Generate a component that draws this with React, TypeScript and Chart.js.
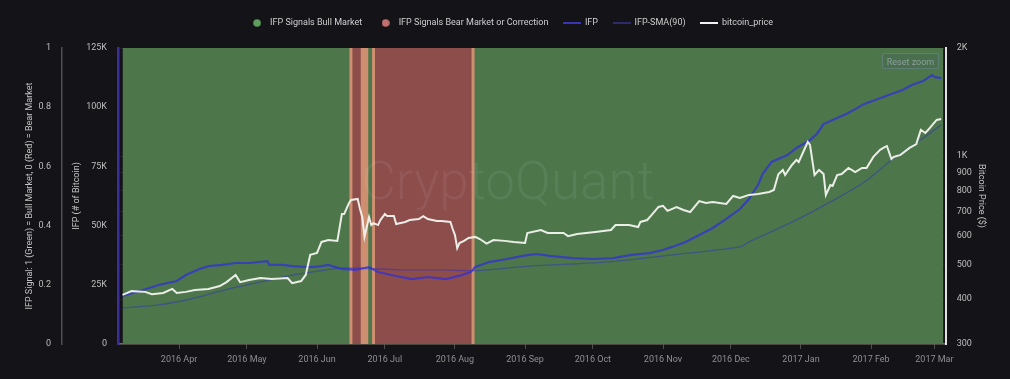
import { useEffect, useRef } from 'react';
import { Chart, registerables } from 'chart.js';

Chart.register(...registerables);

// ---------- data ----------
const xMin = '2016-03-05';
const xMax = '2017-03-06';
const xTickDates = [
  '2016-04-01', '2016-05-01', '2016-06-01', '2016-07-01', '2016-08-01', '2016-09-01',
  '2016-10-01', '2016-11-01', '2016-12-01', '2017-01-01', '2017-02-01', '2017-03-01',
];
const MONTHS = ['Jan', 'Feb', 'Mar', 'Apr', 'May', 'Jun', 'Jul', 'Aug', 'Sep', 'Oct', 'Nov', 'Dec'];

const priceTicks = [300, 400, 500, 600, 700, 800, 900, 1000, 2000];
const ifpTicks = [0, 25000, 50000, 75000, 100000, 125000];
const signalTicks = [0, 0.2, 0.4, 0.6, 0.8, 1];

const signalDates = ['2016-03-07', '2016-06-16', '2016-06-21', '2016-06-22', '2016-06-23', '2016-06-26', '2016-08-09', '2017-03-05'];
const bullSignal = [1, 0, 1, 0, 1, 0, 1, 1];
const bearSignal = [0, 1, 0, 1, 0, 1, 0, 0];

const priceDates = [
  '2016-03-07', '2016-03-11', '2016-03-17', '2016-03-20', '2016-03-25', '2016-03-29', '2016-03-31',
  '2016-04-04', '2016-04-08', '2016-04-14', '2016-04-19', '2016-04-22', '2016-04-26', '2016-04-28',
  '2016-05-02', '2016-05-07', '2016-05-12', '2016-05-19', '2016-05-21', '2016-05-25', '2016-05-27',
  '2016-05-29', '2016-06-01', '2016-06-03', '2016-06-06', '2016-06-10', '2016-06-12', '2016-06-13',
  '2016-06-15', '2016-06-16', '2016-06-19', '2016-06-20', '2016-06-21', '2016-06-22', '2016-06-24',
  '2016-06-25', '2016-06-26', '2016-06-28', '2016-06-29', '2016-07-01', '2016-07-02', '2016-07-05',
  '2016-07-06', '2016-07-10', '2016-07-12', '2016-07-16', '2016-07-18', '2016-07-20', '2016-07-24',
  '2016-07-26', '2016-07-30', '2016-07-31', '2016-08-01', '2016-08-02', '2016-08-03', '2016-08-05',
  '2016-08-07', '2016-08-10', '2016-08-12', '2016-08-15', '2016-08-18', '2016-08-23', '2016-08-27',
  '2016-09-01', '2016-09-02', '2016-09-08', '2016-09-11', '2016-09-18', '2016-09-20', '2016-09-24',
  '2016-10-02', '2016-10-09', '2016-10-11', '2016-10-17', '2016-10-21', '2016-10-22', '2016-10-25',
  '2016-10-27', '2016-10-30', '2016-11-01', '2016-11-03', '2016-11-07', '2016-11-10', '2016-11-13',
  '2016-11-17', '2016-11-20', '2016-11-23', '2016-11-29', '2016-12-02', '2016-12-05', '2016-12-09',
  '2016-12-13', '2016-12-18', '2016-12-20', '2016-12-22', '2016-12-24', '2016-12-25', '2016-12-28',
  '2016-12-30', '2016-12-31', '2017-01-02', '2017-01-04', '2017-01-05', '2017-01-07', '2017-01-09',
  '2017-01-11', '2017-01-12', '2017-01-14', '2017-01-15', '2017-01-17', '2017-01-19', '2017-01-22',
  '2017-01-25', '2017-01-28', '2017-01-30', '2017-02-02', '2017-02-05', '2017-02-07', '2017-02-08',
  '2017-02-10', '2017-02-11', '2017-02-14', '2017-02-18', '2017-02-21', '2017-02-23', '2017-02-25',
  '2017-02-27', '2017-03-02', '2017-03-04',
];
const priceValues = [
  411, 421, 419, 413, 416, 427, 416,
  419, 424, 427, 435, 446, 467, 446,
  452, 458, 455, 458, 443, 449, 467,
  531, 538, 577, 584, 581, 690, 690,
  737, 755, 760, 713, 677, 596, 677,
  643, 651, 643, 664, 690, 681, 681,
  647, 656, 664, 668, 681, 668, 660,
  660, 656, 627, 603, 555, 573, 581,
  592, 596, 588, 571, 584, 581, 577,
  573, 611, 623, 611, 611, 599, 607,
  615, 623, 643, 643, 635, 656, 664,
  686, 722, 727, 704, 722, 708, 699,
  750, 741, 745, 736, 775, 765, 780,
  785, 795, 805, 890, 915, 886, 945,
  976, 963, 1027, 1095, 1074, 886, 915,
  892, 780, 831, 826, 886, 892, 927,
  903, 927, 927, 995, 1041, 1060, 1067,
  982, 995, 1008, 1054, 1081, 1183, 1160,
  1198, 1261, 1269,
];

const ifpDates = [
  '2016-03-07', '2016-03-16', '2016-03-23', '2016-03-31', '2016-04-04', '2016-04-10', '2016-04-14',
  '2016-04-20', '2016-04-26', '2016-05-02', '2016-05-10', '2016-05-11', '2016-05-17', '2016-05-21',
  '2016-05-29', '2016-06-03', '2016-06-06', '2016-06-12', '2016-06-18', '2016-06-24', '2016-06-28',
  '2016-07-06', '2016-07-13', '2016-07-20', '2016-07-28', '2016-08-04', '2016-08-08', '2016-08-10',
  '2016-08-16', '2016-08-24', '2016-08-31', '2016-09-06', '2016-09-12', '2016-09-22', '2016-10-01',
  '2016-10-10', '2016-10-18', '2016-10-26', '2016-11-01', '2016-11-05', '2016-11-11', '2016-11-17',
  '2016-11-23', '2016-11-29', '2016-12-05', '2016-12-09', '2016-12-13', '2016-12-15', '2016-12-19',
  '2016-12-26', '2016-12-30', '2017-01-05', '2017-01-08', '2017-01-11', '2017-01-16', '2017-01-21',
  '2017-01-25', '2017-01-29', '2017-02-04', '2017-02-10', '2017-02-15', '2017-02-19', '2017-02-24',
  '2017-02-28', '2017-03-01', '2017-03-04',
];
const ifpValues = [
  20300, 22800, 24900, 26600, 29100, 31700, 32900,
  33400, 34200, 34200, 35000, 33400, 33400, 32900,
  32500, 32900, 33400, 31700, 31300, 32500, 30400,
  28700, 27400, 28300, 27400, 29100, 30400, 32500,
  34600, 35900, 37200, 38000, 37200, 36300, 35900,
  36300, 37600, 38400, 39700, 41000, 43100, 46000,
  49000, 52800, 57000, 61200, 67100, 71800, 76900,
  79800, 82800, 86100, 88700, 92900, 95000, 97100,
  99200, 101400, 103500, 105600, 107300, 109400, 111100,
  113600, 112800, 112300,
];

const smaDates = [
  '2016-03-07', '2016-03-23', '2016-04-06', '2016-04-21', '2016-05-07', '2016-05-21', '2016-06-05',
  '2016-06-12', '2016-07-09', '2016-07-26', '2016-08-10', '2016-09-03', '2016-10-06', '2016-11-05',
  '2016-12-05', '2016-12-09', '2016-12-30', '2017-01-14', '2017-01-29', '2017-02-10', '2017-02-21',
  '2017-03-04',
];
const smaValues = [
  15200, 16500, 19000, 22800, 26200, 29100, 31300,
  32100, 31300, 31300, 31000, 32900, 34600, 37600,
  41000, 43100, 52400, 60000, 68400, 77700, 84900,
  92500,
];

// ---------- styles ----------
const BG = '#141418';
const GREEN = '#4d764b';
const RED = '#8c4d4b';
const TAN = '#cd8f70';
const IFP_COLOR = 'rgba(48,48,215,0.75)';
const SMA_COLOR = 'rgba(45,45,195,0.45)';
const PRICE_COLOR = 'rgba(242,244,238,0.95)';
const FONT = 'Roboto';

function toMs(s: string): number {
  const [y, m, d] = s.split('-').map(Number);
  return Date.UTC(y, m - 1, d);
}

function circleImg(color: string): HTMLCanvasElement {
  const c = document.createElement('canvas');
  c.width = 8; c.height = 8;
  const g = c.getContext('2d')!;
  g.fillStyle = color;
  g.beginPath();
  g.arc(4, 4, 3.8, 0, Math.PI * 2);
  g.fill();
  return c;
}
function lineImg(color: string, h: number): HTMLCanvasElement {
  const c = document.createElement('canvas');
  c.width = 18; c.height = h;
  const g = c.getContext('2d')!;
  g.fillStyle = color;
  g.fillRect(0, 0, 18, h);
  return c;
}

export default function App() {
  const ref = useRef<HTMLCanvasElement>(null);

  useEffect(() => {
    const bullData = signalDates.map((d, i) => ({ x: toMs(d), y: bullSignal[i] }));
    const bearData = signalDates.map((d, i) => ({ x: toMs(d), y: bearSignal[i] }));
    const edgeData: { x: number; y: number | null }[] = [];
    for (let i = 1; i < signalDates.length; i++) {
      if (bullSignal[i] !== bullSignal[i - 1]) {
        const t = toMs(signalDates[i]);
        edgeData.push({ x: t, y: 0 }, { x: t, y: 1 }, { x: t, y: null });
      }
    }
    const priceData = priceDates.map((d, i) => ({ x: toMs(d), y: priceValues[i] }));
    const ifpData = ifpDates.map((d, i) => ({ x: toMs(d), y: ifpValues[i] }));
    const smaData = smaDates.map((d, i) => ({ x: toMs(d), y: smaValues[i] }));

    const legendDefs = [
      { text: 'IFP Signals Bull Market', img: circleImg('#5c9e5c') },
      { text: 'IFP Signals Bear Market or Correction', img: circleImg('#c46f6f') },
      { text: 'IFP', img: lineImg('rgba(60,55,200,0.9)', 2) },
      { text: 'IFP-SMA(90)', img: lineImg('rgba(50,50,130,0.8)', 2) },
      { text: 'bitcoin_price', img: lineImg('#f2f2f2', 2) },
    ];

    const legendHeightPlugin = {
      id: 'legendHeight',
      beforeInit(chart: any) {
        const orig = chart.legend.fit;
        chart.legend.fit = function () {
          orig.call(this);
          this.height = 44.5;
        };
      },
    };

    const watermark = {
      id: 'watermark',
      afterDatasetDraw(chart: any, args: any) {
        if (args.index !== 5) return;
        const { ctx, chartArea: a } = chart;
        ctx.save();
        ctx.font = `300 53px ${FONT}`;
        ctx.fillStyle = 'rgba(255,255,255,0.065)';
        ctx.textAlign = 'center';
        ctx.textBaseline = 'middle';
        ctx.fillText('CryptoQuant', 508, 186);
        ctx.restore();
      },
    };

    const tickFont = { family: FONT, size: 9 };
    const titleFont = { family: FONT, size: 9 };

    const chart = new Chart(ref.current!, {
      type: 'line',
      data: {
        datasets: [
          {
            label: 'IFP Signals Bull Market', data: bullData, yAxisID: 'signal', stepped: true,
            fill: 'origin', backgroundColor: GREEN, borderWidth: 0, pointRadius: 0, order: 6,
          },
          {
            label: 'IFP Signals Bear Market or Correction', data: bearData, yAxisID: 'signal', stepped: true,
            fill: 'origin', backgroundColor: RED, borderWidth: 0, pointRadius: 0, order: 5,
          },
          {
            label: 'IFP', data: ifpData, yAxisID: 'ifp', borderColor: IFP_COLOR, borderWidth: 2.2,
            pointRadius: 0, tension: 0, fill: false, order: 1,
          },
          {
            label: 'IFP-SMA(90)', data: smaData, yAxisID: 'ifp', borderColor: SMA_COLOR, borderWidth: 1.3,
            pointRadius: 0, tension: 0.3, fill: false, order: 2,
          },
          {
            label: 'bitcoin_price', data: priceData, yAxisID: 'price', borderColor: PRICE_COLOR, borderWidth: 2,
            pointRadius: 0, tension: 0, fill: false, order: 0,
          },
          {
            label: 'edges', data: edgeData, yAxisID: 'signal', borderColor: TAN, borderWidth: 3,
            pointRadius: 0, fill: false, spanGaps: false, order: 4,
          },
        ] as any,
      },
      options: {
        responsive: false,
        maintainAspectRatio: false,
        animation: false,
        devicePixelRatio: 1,
        events: [],
        layout: { padding: { left: 20, right: 8.3, top: 3.5, bottom: 0 } },
        plugins: {
          tooltip: { enabled: false },
          legend: {
            display: true,
            position: 'top',
            align: 'center',
            labels: {
              usePointStyle: true,
              pointStyleWidth: 17,
              boxHeight: 9,
              padding: 15,
              color: '#cfcfcf',
              font: { family: FONT, size: 9 },
              generateLabels: () =>
                legendDefs.map((l, i) => ({
                  text: l.text,
                  pointStyle: l.img,
                  fillStyle: 'transparent',
                  strokeStyle: 'transparent',
                  lineWidth: 0,
                  hidden: false,
                  datasetIndex: i,
                  fontColor: '#cfcfcf',
                })) as any,
            },
          },
        },
        scales: {
          x: {
            type: 'linear',
            min: toMs(xMin),
            max: toMs(xMax),
            afterBuildTicks: (s: any) => { s.ticks = xTickDates.map((d) => ({ value: toMs(d) })); },
            afterFit: (s: any) => { s.height = 35; },
            ticks: {
              autoSkip: false,
              maxRotation: 0,
              minRotation: 0,
              padding: 5,
              color: '#909090',
              font: tickFont,
              callback: (v: any) => {
                const dt = new Date(Number(v));
                return `${dt.getUTCFullYear()} ${MONTHS[dt.getUTCMonth()]}`;
              },
            },
            grid: { drawOnChartArea: false, drawTicks: true, tickLength: 5, color: 'rgba(150,150,150,0.45)' },
            border: { display: true, color: 'rgba(185,178,150,0.55)', width: 1.5 },
          },
          signal: {
            type: 'linear',
            position: 'left',
            weight: 2,
            min: 0,
            max: 1,
            afterBuildTicks: (s: any) => { s.ticks = signalTicks.map((v) => ({ value: v })); },
            afterFit: (s: any) => { s.width = 42; },
            ticks: {
              padding: 11,
              color: '#bdbdbd',
              font: tickFont,
              callback: (v: any) => String(Math.round(Number(v) * 10) / 10),
            },
            grid: { display: false, drawTicks: false },
            border: { display: true, color: '#4e4e52', width: 1.5 },
            title: {
              display: true,
              text: 'IFP Signal: 1 (Green) = Bull Market, 0 (Red) = Bear Market',
              color: '#c4c4c4',
              font: titleFont,
              padding: { top: 4, bottom: 0 },
            },
          },
          ifp: {
            type: 'linear',
            position: 'left',
            weight: 1,
            min: 0,
            max: 125000,
            afterBuildTicks: (s: any) => { s.ticks = ifpTicks.map((v) => ({ value: v })); },
            afterFit: (s: any) => { s.width = 56; },
            ticks: {
              padding: 11,
              color: '#bdbdbd',
              font: tickFont,
              callback: (v: any) => (Number(v) === 0 ? '0' : `${Number(v) / 1000}K`),
            },
            grid: { display: false, drawTicks: false },
            border: { display: true, color: '#3a2e9c', width: 2.5 },
            title: {
              display: true,
              text: 'IFP (# of Bitcoin)',
              color: '#c4c4c4',
              font: titleFont,
              padding: { top: 9.3, bottom: 0 },
            },
          },
          price: {
            type: 'logarithmic',
            position: 'right',
            min: 300,
            max: 2000,
            afterBuildTicks: (s: any) => { s.ticks = priceTicks.map((v) => ({ value: v })); },
            afterFit: (s: any) => { s.width = 56; },
            ticks: {
              padding: 11,
              color: '#bdbdbd',
              font: tickFont,
              callback: (v: any) => (Number(v) >= 1000 ? `${Number(v) / 1000}K` : String(v)),
            },
            grid: { display: true, drawOnChartArea: true, drawTicks: false, color: 'rgba(255,255,255,0.06)', lineWidth: 1 },
            border: { display: true, color: '#e2e2e2', width: 2 },
            title: {
              display: true,
              text: 'Bitcoin Price ($)',
              color: '#c4c4c4',
              font: titleFont,
              padding: { top: 14.6, bottom: 0 },
            },
          },
        },
      } as any,
      plugins: [legendHeightPlugin, watermark],
    });

    return () => chart.destroy();
  }, []);

  return (
    <div
      style={{
        position: 'fixed', left: 0, top: 0, width: 1010, height: 379,
        background: BG, overflow: 'hidden',
      }}
    >
      <canvas ref={ref} width={1010} height={379} style={{ display: 'block', width: 1010, height: 379 }} />
      <div
        style={{
          position: 'absolute', left: 882, top: 53, width: 57, height: 16,
          border: '1px solid rgba(110,135,140,0.6)', borderRadius: 2,
          background: 'rgba(70,100,85,0.35)', color: '#8e9e9c',
          font: `9px ${FONT}`, lineHeight: '16px', textAlign: 'center', boxSizing: 'border-box',
        }}
      >
        Reset zoom
      </div>
    </div>
  );
}
